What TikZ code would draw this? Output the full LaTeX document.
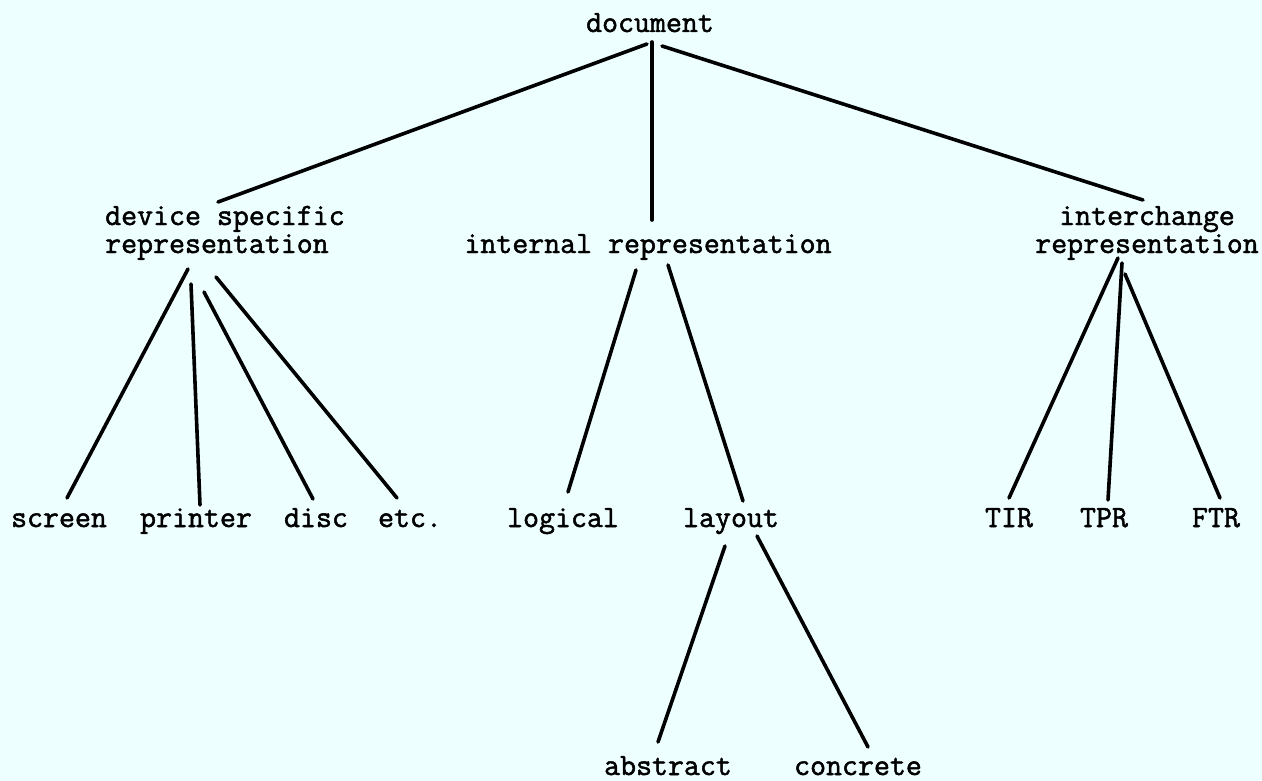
\documentclass[tikz,border=0pt]{standalone}
\usepackage{fontspec}
\setmonofont[FakeBold=1.6]{Latin Modern Mono}
\definecolor{paper}{HTML}{EEFFFF}
\begin{document}
\begin{tikzpicture}[x=1pt,y=-1pt,
  lbl/.style={inner sep=0pt, anchor=base, font=\ttfamily\fontsize{31}{28}\selectfont},
  edge/.style={line width=3.6pt, line cap=round}]
  % page
  \fill[paper] (0,0) rectangle (1262,781);

  % labels (a two-line label is placed by the baseline of its last line)
  \node[lbl] (doc) at (650,32) {document};
  \node[lbl, anchor=base west, align=left] (dev) at (105,253) {device specific\\representation};
  \node[lbl] (int) at (648,253) {internal representation};
  \node[lbl, align=center] (ich) at (1147,253) {interchange\\representation};
  \node[lbl] (scr) at (59,527) {screen};
  \node[lbl] (prn) at (196,527) {printer};
  \node[lbl] (dsc) at (316,527) {disc};
  \node[lbl] (etc) at (410,527) {etc.};
  \node[lbl] (log) at (563,527) {logical};
  \node[lbl] (lay) at (731,527) {layout};
  \node[lbl] (tir) at (1009,527) {TIR};
  \node[lbl] (tpr) at (1104,527) {TPR};
  \node[lbl] (ftr) at (1216,527) {FTR};
  \node[lbl] (abs) at (668,775) {abstract};
  \node[lbl] (con) at (858,775) {concrete};

  % line ends
  \coordinate (docL) at (647,44);
  \coordinate (docM) at (652,42);
  \coordinate (docR) at (662,46);
  \coordinate (devT) at (218,202);
  \coordinate (intT) at (652,220);
  \coordinate (ichT) at (1143,200);
  \coordinate (devA) at (188,269);
  \coordinate (devB) at (191,284);
  \coordinate (devC) at (204,292);
  \coordinate (devD) at (216,277);
  \coordinate (scrT) at (67,498);
  \coordinate (prnT) at (200,505);
  \coordinate (dscT) at (313,499);
  \coordinate (etcT) at (397,498);
  \coordinate (intA) at (636,270);
  \coordinate (intB) at (668,265);
  \coordinate (logT) at (568,492);
  \coordinate (layT) at (743,501);
  \coordinate (layA) at (725,546);
  \coordinate (layB) at (757,536);
  \coordinate (absT) at (658,742);
  \coordinate (conT) at (868,747);
  \coordinate (ichA) at (1118,258);
  \coordinate (ichB) at (1122,263);
  \coordinate (ichC) at (1125,274);
  \coordinate (tirT) at (1009,498);
  \coordinate (tprT) at (1108,500);
  \coordinate (ftrT) at (1220,498);

  % connectors
  \draw[edge] (docL) -- (devT);
  \draw[edge] (docM) -- (intT);
  \draw[edge] (docR) -- (ichT);
  \draw[edge] (devA) -- (scrT);
  \draw[edge] (devB) -- (prnT);
  \draw[edge] (devC) -- (dscT);
  \draw[edge] (devD) -- (etcT);
  \draw[edge] (intA) -- (logT);
  \draw[edge] (intB) -- (layT);
  \draw[edge] (layA) -- (absT);
  \draw[edge] (layB) -- (conT);
  \draw[edge] (ichA) -- (tirT);
  \draw[edge] (ichB) -- (tprT);
  \draw[edge] (ichC) -- (ftrT);
\end{tikzpicture}
\end{document}
